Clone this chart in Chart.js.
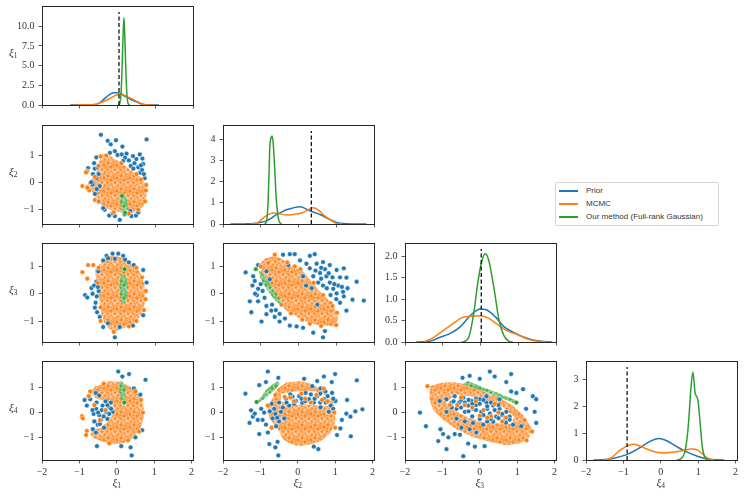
<!DOCTYPE html>
<html>
<head>
<meta charset="utf-8">
<script src="https://cdn.jsdelivr.net/npm/chart.js@4.4.0/dist/chart.umd.min.js"></script>
<style>
  body { margin: 0; background: #fff; }
  #fig { position: relative; width: 748px; height: 497px; overflow: hidden; font-family: "Liberation Serif", serif; color: #333; }
  #fig canvas { position: absolute; }
  .box { position: absolute; box-sizing: border-box; border: 1px solid #262626; pointer-events: none; }
  .lab { position: absolute; font-size: 11px; line-height: 12px; white-space: nowrap; }
  .lab i { font-style: italic; }
  .lab sub { font-size: 7.5px; vertical-align: -2px; }
  #legend { position: absolute; left: 555px; top: 182px; width: 162px; height: 42px; border: 1px solid #d6d6d6; border-radius: 2px; font-family: "Liberation Sans", sans-serif; font-size: 8px; color: #333; background: #fff; }
  #legend div { position: absolute; left: 30px; height: 10px; line-height: 10px; }
  #legend span { position: absolute; left: -27px; top: 4px; width: 19px; height: 1.6px; }
</style>
</head>
<body>
<div id="fig"></div>
<script>
// ---- data ----
const varNames = ["1", "2", "3", "4"];
const seriesNames = ["Prior", "MCMC", "Our method (Full-rank Gaussian)"];
const seriesColors = ["#1f77b4", "#ff7f0e", "#2ca02c"];
const xTicks = [-2, -1, 0, 1, 2];
const scatterYTicks = [-1, 0, 1];
const rowYMin = [0, -1.53, -1.77, -1.88];
const rowYMax = [11.8, 1.88, 1.64, 1.81];
const diagYMax = [11.8, 4.39, 2.17, 3.48];
const diagYTicks = [[0, 2.5, 5, 7.5, 10], [0, 1, 2, 3, 4], [0, 0.5, 1, 1.5, 2], [0, 1, 2, 3]];
const trueVals = [0.04, 0.34, 0.02, -0.9];

// marginal densities
const kdePrior1 = [[-1.25,0],[-0.8,0.005],[-0.6,0.05],[-0.5,0.2],[-0.4,0.55],[-0.3,1.0],[-0.2,1.35],[-0.1,1.55],[0,1.55],[0.1,1.4],[0.2,1.1],[0.3,0.85],[0.4,0.6],[0.5,0.4],[0.6,0.2],[0.7,0.07],[0.8,0.02],[1.1,0]];
const kdeMcmc1 = [[-1.15,0],[-0.8,0.02],[-0.6,0.08],[-0.5,0.2],[-0.4,0.38],[-0.3,0.6],[-0.2,0.85],[-0.1,1.1],[0,1.3],[0.1,1.38],[0.2,1.2],[0.3,0.95],[0.4,0.75],[0.5,0.5],[0.6,0.25],[0.7,0.06],[0.8,0.01],[1.0,0]];
const kdeOurs1 = [[0.02,0],[0.06,0.2],[0.09,1.2],[0.12,4.5],[0.145,8.5],[0.17,11.1],[0.195,8.5],[0.22,4.5],[0.25,1.3],[0.28,0.2],[0.32,0]];
const kdePrior2 = [[-1.8,0],[-1.4,0.005],[-1.2,0.02],[-1.03,0.07],[-0.85,0.15],[-0.7,0.3],[-0.58,0.45],[-0.45,0.56],[-0.32,0.67],[-0.15,0.76],[0.04,0.82],[0.17,0.74],[0.3,0.62],[0.45,0.53],[0.57,0.45],[0.7,0.33],[0.83,0.22],[1.01,0.07],[1.18,0.02],[1.4,0.003],[1.8,0]];
const kdeMcmc2 = [[-1.3,0],[-1.11,0.02],[-0.98,0.22],[-0.85,0.4],[-0.67,0.52],[-0.5,0.48],[-0.32,0.42],[-0.14,0.45],[0.08,0.52],[0.26,0.67],[0.39,0.77],[0.52,0.67],[0.7,0.37],[0.88,0.15],[1.01,0.03],[1.15,0]];
const kdeOurs2 = [[-0.9,0],[-0.85,0.1],[-0.81,0.9],[-0.78,2.4],[-0.76,3.6],[-0.73,4.05],[-0.7,4.15],[-0.67,3.8],[-0.63,2.6],[-0.59,1.2],[-0.54,0.35],[-0.5,0.08],[-0.45,0]];
const kdePrior3 = [[-1.7,0],[-1.51,0.005],[-1.33,0.02],[-1.07,0.11],[-0.8,0.2],[-0.53,0.36],[-0.27,0.62],[-0.1,0.74],[0,0.77],[0.18,0.74],[0.4,0.58],[0.62,0.36],[0.89,0.22],[1.16,0.11],[1.42,0.04],[1.69,0.01],[1.9,0]];
const kdeMcmc3 = [[-1.5,0],[-1.24,0.11],[-0.98,0.27],[-0.71,0.44],[-0.49,0.57],[-0.27,0.6],[0,0.61],[0.18,0.57],[0.44,0.42],[0.71,0.26],[0.98,0.17],[1.24,0.07],[1.51,0.015],[1.75,0]];
const kdeOurs3 = [[-0.5,0],[-0.44,0.01],[-0.31,0.11],[-0.18,0.66],[-0.07,1.39],[0.04,1.9],[0.13,2.06],[0.22,1.9],[0.36,1.24],[0.49,0.51],[0.62,0.15],[0.76,0.015],[0.85,0]];
const kdePrior4 = [[-1.8,0],[-1.6,0.01],[-1.28,0.06],[-0.93,0.19],[-0.57,0.45],[-0.31,0.68],[-0.05,0.8],[0.13,0.74],[0.39,0.53],[0.65,0.33],[1.0,0.13],[1.27,0.035],[1.5,0.005],[1.7,0]];
const kdeMcmc4 = [[-1.55,0],[-1.45,0.01],[-1.32,0.09],[-1.1,0.35],[-0.84,0.56],[-0.71,0.59],[-0.49,0.48],[-0.22,0.33],[0.04,0.27],[0.3,0.29],[0.57,0.35],[0.83,0.41],[1.0,0.36],[1.18,0.15],[1.31,0.035],[1.45,0]];
const kdeOurs4 = [[0.42,0],[0.48,0.01],[0.57,0.09],[0.66,0.39],[0.74,1.33],[0.81,2.74],[0.86,3.29],[0.92,2.5],[0.99,2.27],[1.05,1.45],[1.11,0.51],[1.18,0.09],[1.25,0]];

// pairwise samples: visible points, and outlines of the dense clouds
const prior21 = [[-0.44,1.74],[-0.26,1.52],[-0.04,1.54],[-0.18,1.39],[0.13,1.31],[0.77,1.57],[-0.56,0.91],[-0.84,0.38],[-0.78,0.52],[-0.6,0.5],[-0.56,0.15],[-0.66,-0.08],[-0.6,-0.43],[-0.49,-0.72],[-0.34,-1.01],[-0.22,-1.22],[-0.07,-1.24],[0.06,-1.38],[0.19,-1.18],[0.37,-1.24],[0.49,-1.22],[0.68,0.67],[0.66,0.87],[0.59,1.02],[0.41,0.96],[0.24,1.05],[0.11,1.02],[-0.07,1.14],[-0.2,1.08],[0.72,0.15],[-0.47,-0.14],[-0.38,-0.95],[-0.13,-1.13],[0.34,-1.05],[0.3,0.8],[0.45,0.7],[0.55,0.55],[0.6,0.35],[0.2,0.9],[0.5,0.85],[0.65,0.45],[-0.5,0.3],[-0.65,0.3],[-0.7,0.0],[0.0,1.0],[0.35,0.6],[0.15,0.78],[0.42,0.5],[0.62,0.62],[-0.52,0.55],[-0.62,0.7],[0.7,0.3],[-0.55,-0.25],[0.55,-1.1]];
const mcmcHull21 = [[-0.42,1.02],[-0.33,1.05],[-0.2,0.98],[0.0,0.8],[0.2,0.6],[0.4,0.4],[0.6,0.2],[0.72,-0.02],[0.77,-0.49],[0.68,-0.89],[0.41,-1.13],[0.15,-1.13],[-0.2,-1.01],[-0.42,-0.84],[-0.56,-0.55],[-0.73,-0.26],[-0.86,-0.14],[-0.69,0.09],[-0.56,0.38],[-0.49,0.73]];
const mcmcPts21 = [[-0.93,-0.14],[-0.8,0.41],[-0.83,0.36],[-0.75,-0.3],[-0.6,-0.65],[0.75,-0.3],[0.73,-0.7],[0.3,-1.15],[-0.45,0.95],[0.5,0.3],[-0.3,0.98],[0.1,0.7],[0.62,0.1],[0.76,-0.1],[0.55,-1.0],[-0.1,-1.1],[-0.5,-0.7],[-0.8,-0.2],[-0.6,0.2],[-0.5,0.6]];
const oursHull21 = [[0.07,-0.6],[0.15,-0.48],[0.24,-0.55],[0.27,-0.8],[0.26,-1.05],[0.2,-1.15],[0.12,-1.05],[0.08,-0.85]];
const oursPts21 = [[0.2,-1.12],[0.12,-0.5]];

const prior31 = [[-0.13,1.47],[0.02,1.47],[0.15,1.39],[-0.29,1.39],[-0.07,1.28],[0.43,1.05],[0.68,0.87],[0.77,0.41],[0.68,-0.79],[0.41,-1.17],[0.06,-1.22],[-0.07,-1.6],[-0.38,-1.22],[-0.25,-1.08],[-0.86,-0.05],[-0.8,-0.14],[-0.69,0.21],[-0.56,0.44],[-0.58,-0.33],[-0.54,-0.68],[-0.6,-0.51],[-0.47,-0.85],[-0.51,0.82],[-0.38,1.22],[-0.62,0.3],[-0.5,0.1],[0.2,1.25],[-0.55,-0.1],[-0.66,0.0],[-0.52,0.25],[0.3,1.15],[-0.25,1.3]];
const mcmcHull31 = [[-0.47,1.1],[-0.2,1.39],[0.06,1.36],[0.37,1.1],[0.59,0.82],[0.72,0.3],[0.72,-0.39],[0.59,-0.85],[0.41,-1.14],[0.19,-1.25],[-0.03,-1.37],[-0.2,-1.31],[-0.34,-1.08],[-0.42,-0.79],[-0.47,-0.39],[-0.51,0.07],[-0.56,0.53],[-0.6,0.87]];
const mcmcPts31 = [[-0.93,0.79],[-0.8,0.55],[-0.78,1.05],[-0.64,1.05],[0.75,0.1],[0.74,-0.2],[0.7,-0.6],[0.5,-1.0],[-0.45,-1.0],[-0.5,0.95],[0.5,0.95],[0.65,0.6],[0.3,-1.2],[-0.1,-1.4],[-0.45,-0.5],[-0.52,0.4]];
const oursHull31 = [[0.08,0.6],[0.15,0.8],[0.22,0.65],[0.27,0.3],[0.26,-0.1],[0.2,-0.35],[0.1,-0.38],[0.07,0.0],[0.06,0.3]];
const oursPts31 = [[0.19,0.9]];

const prior41 = [[0.04,1.63],[0.15,1.43],[0.33,1.53],[0.77,1.3],[0.46,0.96],[0.63,0.71],[-0.86,0.5],[-0.71,0.53],[-0.8,0.28],[-0.56,0.78],[-0.47,0.68],[-0.54,0.4],[-0.38,0.28],[-0.2,0.21],[-0.29,0.03],[-0.47,-0.1],[-0.6,-0.35],[-0.51,-0.48],[-0.42,-0.29],[-0.64,-0.66],[-0.56,-0.79],[-0.16,0.4],[-0.11,0.03],[-0.34,-0.6],[-0.53,-1.33],[0.12,-1.33],[0.37,-1.38],[0.4,-1.7],[0.68,-0.7],[0.5,-0.98],[-0.25,0.3],[-0.4,0.1],[-0.55,0.15],[-0.35,-0.15],[-0.2,-0.05],[-0.45,-0.45],[-0.62,-0.05],[-0.3,0.45],[-0.15,0.15],[-0.25,-0.25],[-0.5,0.0],[-0.65,0.1]];
const mcmcHull41 = [[-0.69,0.78],[-0.6,1.03],[-0.47,1.09],[-0.2,1.25],[0.11,1.21],[0.37,1.03],[0.59,0.71],[0.72,0.28],[0.72,-0.23],[0.63,-0.66],[0.41,-1.04],[0.15,-1.23],[-0.11,-1.26],[-0.38,-1.16],[-0.6,-1.02],[-0.72,-0.85],[-0.62,-0.68],[-0.45,-0.62],[-0.28,-0.4],[-0.12,-0.12],[-0.1,0.25],[-0.28,0.46],[-0.55,0.55]];
const mcmcPts41 = [[-0.93,-0.14],[-0.91,-0.23],[-0.8,-0.73],[-0.82,-0.89],[-0.71,0.84],[-0.75,0.65],[-0.6,0.3],[-0.45,-0.3],[-0.3,0.1],[0.7,0.0],[0.65,0.5],[0.5,0.85],[-0.35,1.15],[0.3,-1.1],[-0.2,-1.22],[0.6,-0.75]];
const oursHull41 = [[0.06,1.21],[0.12,1.25],[0.2,1.15],[0.25,0.9],[0.22,0.5],[0.18,0.42],[0.1,0.6],[0.05,0.85]];
const oursPts41 = [[0.2,0.4]];

const prior32 = [[-1.4,0.78],[-1.2,0.64],[-1.16,0.47],[-1.22,0.3],[-1.07,0.18],[-1.29,-0.28],[-1.25,-0.68],[-1.07,-0.28],[-0.98,-1.02],[-0.85,-0.45],[-0.72,-0.62],[-0.63,-0.85],[-0.5,-1.02],[-0.23,-1.17],[-0.05,-1.2],[0.12,-1.25],[0.39,-1.43],[0.65,-1.6],[0.7,-1.37],[-0.41,1.43],[-0.23,1.45],[-0.1,1.45],[0.3,1.39],[0.43,1.45],[0.04,1.22],[0.21,1.1],[0.48,1.1],[0.65,1.16],[0.83,1.05],[1.01,0.87],[1.2,0.93],[1.27,0.59],[1.54,0.44],[1.43,-0.22],[1.73,-0.25],[1.27,-0.62],[1.1,-0.33],[0.92,0.18],[0.74,0.64],[0.57,0.76],[0.39,0.64],[0.52,0.41],[0.83,0.41],[1.01,0.01],[1.18,0.07],[0.65,0.3],[0.3,0.93],[0.12,0.64],[-1.07,1.05],[-0.85,0.82],[-0.76,0.53],[-0.27,1.05],[-0.5,-0.74],[-0.36,-0.91],[0.9,0.6],[1.05,0.3],[0.7,0.9],[-0.95,0.1],[-1.1,-0.05],[0.2,0.3],[0.5,-0.4],[0.6,0.95],[0.8,0.75],[1.1,0.6],[0.75,0.2],[0.95,0.35],[1.15,0.25],[0.85,-0.05],[0.45,0.85],[0.6,0.55],[1.0,-0.2],[1.3,0.2],[-1.0,0.35],[-0.9,-0.15],[-1.15,0.0],[-0.7,-0.4],[-0.6,-0.6],[-0.85,-0.75],[1.2,-0.1],[0.35,0.2]];
const mcmcHull32 = [[-1.03,1.1],[-0.89,1.28],[-0.63,1.39],[-0.45,1.28],[-0.14,0.99],[0.12,0.82],[0.3,0.53],[0.57,0.07],[0.79,-0.22],[0.96,-0.56],[1.05,-0.91],[0.96,-1.2],[0.74,-1.17],[0.48,-1.14],[0.21,-1.02],[-0.05,-0.85],[-0.32,-0.62],[-0.5,-0.33],[-0.67,0.07],[-0.85,0.41],[-0.98,0.76]];
const mcmcPts32 = [[-0.63,1.43],[-0.8,1.13],[1.0,-1.15],[1.02,-0.7],[0.85,-0.35],[-0.1,1.0],[0.3,-1.1],[-0.3,1.15],[0.05,0.9],[0.4,0.4],[0.65,-0.05],[0.9,-0.45],[0.6,-1.18],[0.1,-0.95],[-0.2,-0.72],[-0.45,-0.4],[-1.0,1.0]];
const oursHull32 = [[-1.05,0.85],[-0.98,0.8],[-0.8,0.45],[-0.6,0.05],[-0.45,-0.35],[-0.5,-0.4],[-0.68,-0.15],[-0.88,0.25],[-1.02,0.6]];
const oursPts32 = [[-1.13,0.9]];

const prior42 = [[-1.4,0.75],[-1.03,1.09],[-0.8,1.63],[-0.52,1.38],[-0.85,1.21],[-1.25,0.09],[-1.2,-0.16],[-1.29,-0.41],[-1.15,-0.04],[-1.07,-0.29],[-1.03,-0.85],[-0.98,0.15],[-0.8,-0.79],[-0.76,-1.25],[-0.6,-1.38],[-0.54,-1.16],[-0.52,-1.7],[0.17,1.34],[0.52,1.25],[0.7,1.43],[1.0,1.53],[0.91,1.21],[0.39,1.05],[0.61,0.96],[0.74,0.84],[0.92,0.78],[1.01,0.46],[1.32,0.5],[1.58,1.28],[1.54,0.05],[1.73,0.13],[1.41,-0.16],[1.3,-0.04],[1.18,-0.29],[1.14,-0.63],[1.05,-0.89],[1.42,-0.94],[0.43,-1.35],[0.55,-1.45],[0.21,0.78],[0.04,0.65],[-0.14,0.63],[-0.32,0.55],[0.3,0.53],[0.52,0.65],[0.43,0.4],[0.7,0.53],[0.88,0.28],[0.83,0.03],[-0.5,0.4],[-0.63,0.15],[-0.45,0.03],[-0.67,-0.23],[-0.5,-0.35],[-0.58,-0.54],[-0.85,-0.48],[-0.94,-0.29],[-0.23,0.28],[0.12,0.39],[0.61,0.21],[-0.05,0.46],[-0.36,-0.23],[0.95,0.55],[0.6,0.75],[0.1,0.55],[-0.3,0.4],[-0.9,0.0],[-0.7,0.35],[-0.2,0.72],[0.35,0.72],[0.8,0.65],[0.6,0.4],[0.2,0.45],[-0.1,0.35],[0.45,0.55],[0.75,0.4],[-0.4,0.2],[-0.6,-0.05],[-0.75,0.05],[-0.55,-0.2],[0.95,0.15]];
const mcmcHull42 = [[-0.55,0.95],[-0.3,1.2],[0.05,1.25],[0.3,1.18],[0.55,1.0],[0.8,0.75],[0.96,0.4],[1.01,-0.35],[0.88,-0.79],[0.65,-1.1],[0.39,-1.25],[0.04,-1.33],[-0.23,-1.23],[-0.41,-1.04],[-0.5,-0.73],[-0.63,-0.48],[-0.76,-0.23],[-0.8,0.15],[-0.7,0.5],[null,null],[-0.45,0.75],[0.0,0.85],[0.45,0.85],[0.85,0.62],[0.9,0.25],[0.55,0.28],[0.2,0.32],[-0.2,0.3],[-0.45,0.45]];
const mcmcPts42 = [[-0.8,0.28],[-0.2,0.6],[0.2,0.55],[0.5,0.7],[0.65,0.5],[-0.1,0.45],[0.8,0.45],[0.7,0.95],[-0.7,-0.6],[1.0,-0.6],[0.35,0.4],[-0.35,0.62],[0.1,0.75],[-0.6,0.7],[0.98,0.0]];
const oursHull42 = [[-1.1,0.4],[-1.0,0.6],[-0.85,0.9],[-0.7,1.1],[-0.55,1.25],[-0.48,1.15],[-0.55,1.0],[-0.7,0.8],[-0.85,0.6],[-1.0,0.42]];
const oursPts42 = [[-1.1,0.42]];

const prior43 = [[-1.6,0.0],[-1.44,-0.54],[-1.11,-1.13],[-0.89,-1.45],[-0.44,-1.73],[-1.05,-0.66],[-0.98,-0.85],[-0.84,-0.98],[-0.67,-0.85],[-0.53,-0.88],[-0.31,-1.23],[-0.13,-1.35],[0.13,-1.33],[-0.46,1.38],[-0.27,1.46],[0.0,1.34],[0.27,1.63],[0.4,1.43],[0.84,1.53],[0.71,1.21],[0.84,0.84],[0.98,0.78],[1.16,0.93],[1.42,0.65],[1.51,0.53],[1.47,0.03],[1.51,-0.41],[1.24,0.15],[1.11,-0.54],[-0.89,0.53],[-0.67,0.65],[-0.44,0.59],[-0.22,0.46],[0.0,0.53],[0.18,0.4],[0.36,0.28],[0.53,0.15],[0.71,0.03],[-0.62,0.15],[-0.4,0.03],[-0.18,0.15],[0.04,0.03],[0.27,-0.04],[0.44,-0.16],[0.67,-0.29],[0.8,-0.16],[0.89,-0.48],[-0.4,-0.35],[-0.18,-0.41],[0.09,-0.48],[-0.62,-0.24],[-0.89,0.03],[-0.31,0.28],[0.36,-0.36],[0.18,0.65],[-1.07,0.46],[-0.76,0.39],[0.53,0.53],[-0.49,-0.6],[-0.09,-0.79],[-0.27,-0.66],[-0.1,0.3],[0.6,-0.1],[0.2,0.15],[-0.55,0.4],[-0.7,0.45],[-0.5,0.5],[-0.3,0.5],[-0.1,0.55],[0.1,0.5],[0.3,0.4],[0.5,0.3],[-0.4,0.4],[-0.2,0.35],[0.0,0.35],[0.2,0.25],[0.4,0.1],[0.6,-0.05],[0.8,-0.28],[-0.5,0.2],[-0.3,0.05],[-0.1,0.1],[0.1,-0.1],[0.3,-0.25],[0.5,-0.22],[0.7,-0.4],[0.0,-0.25],[-0.2,-0.15],[0.2,-0.35],[-0.75,0.2]];
const mcmcHull43 = [[-1.33,1.05],[-1.07,1.18],[-0.76,1.21],[-0.4,1.15],[0.0,0.9],[0.44,0.65],[0.89,0.28],[1.16,-0.1],[1.38,-0.6],[1.33,-0.98],[1.07,-1.23],[0.71,-1.29],[0.27,-1.16],[-0.18,-0.98],[-0.62,-0.66],[-0.98,-0.29],[-1.24,0.09],[-1.35,0.53],[null,null],[-0.9,0.4],[-0.65,0.72],[-0.25,0.65],[0.2,0.48],[0.6,0.22],[0.92,-0.15],[0.85,-0.45],[0.5,-0.42],[0.1,-0.38],[-0.3,-0.2],[-0.7,0.1]];
const mcmcPts43 = [[-0.4,0.3],[0.1,0.1],[0.5,0.0],[-0.1,0.45],[0.3,-0.15],[-0.6,0.3],[0.7,-0.2],[0.0,-0.12],[-1.4,1.05],[1.4,-0.75],[-0.2,0.2],[0.4,0.35],[-0.5,0.6],[0.2,-0.2],[0.6,-0.35],[-0.8,0.3],[1.25,-1.1],[1.2,-0.3]];
const oursHull43 = [[-0.4,1.22],[-0.3,1.25],[0.1,1.0],[0.5,0.78],[0.95,0.5],[1.0,0.4],[0.9,0.38],[0.5,0.62],[0.1,0.85],[-0.3,1.05],[-0.42,1.12]];
const oursPts43 = [[0.98,0.4]];

// ---- layout ----
const colLeft = [42, 223, 405, 586];
const rowTop = [6, 125, 243, 361];
const PW = 151, PH = 99;
const PADL = 40, PADR = 4, PADT = 4, PADB = 22;
const fig = document.getElementById("fig");

const pts = arr => arr.map(p => ({ x: p[0], y: p[1] }));
const minus = v => (v < 0 ? "\u2212" + Math.abs(v) : String(v));
const fixed1 = v => v.toFixed(1);

// speckled fill so dense clouds read like packed white-edged dots
function speckle(ctx, color) {
  const t = document.createElement("canvas");
  t.width = 13; t.height = 13;
  const g = t.getContext("2d");
  g.fillStyle = color;
  g.fillRect(0, 0, 13, 13);
  g.strokeStyle = "rgba(255,255,255,0.8)";
  g.lineWidth = 0.6;
  const spots = [[2, 3], [7, 1], [11, 5], [5, 7], [9, 10], [1, 10], [12, 12], [6, 12]];
  spots.forEach(s => {
    [-13, 0, 13].forEach(dx => [-13, 0, 13].forEach(dy => {
      g.beginPath();
      g.arc(s[0] + dx, s[1] + dy, 2.3, 0, Math.PI * 2);
      g.stroke();
    }));
  });
  return ctx.createPattern(t, "repeat");
}

// fills a dataset as a closed outline ({x:null} splits rings, even-odd gives holes)
const outlineFill = {
  id: "outlineFill",
  beforeDatasetDraw(chart, args) {
    const ds = chart.data.datasets[args.index];
    if (!ds.outline) return;
    const ctx = chart.ctx, a = chart.chartArea;
    ctx.save();
    ctx.beginPath();
    ctx.rect(a.left, a.top, a.right - a.left, a.bottom - a.top);
    ctx.clip();
    ctx.beginPath();
    let start = true;
    args.meta.data.forEach(el => {
      if (isNaN(el.x) || isNaN(el.y)) { ctx.closePath(); start = true; return; }
      if (start) { ctx.moveTo(el.x, el.y); start = false; } else ctx.lineTo(el.x, el.y);
    });
    ctx.closePath();
    ctx.fillStyle = speckle(ctx, ds.backgroundColor);
    ctx.fill("evenodd");
    ctx.restore();
    return false;
  }
};

function axis(isX, min, max, ticks, fmt, showLabels) {
  return {
    type: "linear",
    position: isX ? "bottom" : "left",
    min: min,
    max: max,
    afterBuildTicks: s => { s.ticks = ticks.map(v => ({ value: v })); },
    afterFit: s => { if (isX) s.height = PADB; else s.width = PADL; },
    grid: { display: true, drawOnChartArea: false, drawTicks: true, tickLength: 3.5, color: "#333", lineWidth: 0.8 },
    border: { display: false },
    ticks: {
      display: showLabels, padding: isX ? 3 : 4, color: "#333", autoSkip: false, maxRotation: 0,
      font: { family: "Liberation Serif", size: 10 },
      callback: fmt
    }
  };
}

function kdeSet(data, color, order) {
  return { data: pts(data), showLine: true, borderColor: color, borderWidth: 1.5, pointRadius: 0,
    cubicInterpolationMode: "monotone", tension: 0.4, order: order };
}

function dotSet(data, color, order) {
  return { data: pts(data), backgroundColor: color, borderColor: "#fff", borderWidth: 0.5,
    pointRadius: 2.4, pointHoverRadius: 2.4, order: order };
}

function outlineSet(data, color, order) {
  return { data: pts(data), outline: true, backgroundColor: color, pointRadius: 0, order: order };
}

function makeChart(r, c, datasets, yMin, yMax, yTicks, yFmt) {
  const canvas = document.createElement("canvas");
  const w = PW + PADL + PADR, h = PH + PADT + PADB;
  canvas.width = w; canvas.height = h;
  canvas.style.left = (colLeft[c] - PADL) + "px";
  canvas.style.top = (rowTop[r] - PADT) + "px";
  canvas.style.width = w + "px"; canvas.style.height = h + "px";
  fig.appendChild(canvas);
  new Chart(canvas, {
    type: "scatter",
    data: { datasets: datasets },
    options: {
      responsive: false,
      animation: false,
      events: [],
      layout: { padding: { left: 0, right: PADR, top: PADT, bottom: 0 } },
      plugins: { legend: { display: false }, tooltip: { enabled: false } },
      scales: {
        x: axis(true, -2, 2, xTicks, minus, r === 3),
        y: axis(false, yMin, yMax, yTicks, yFmt)
      }
    },
    plugins: [outlineFill]
  });
  // panel box (spines)
  const box = document.createElement("div");
  box.className = "box";
  box.style.left = colLeft[c] + "px";
  box.style.top = rowTop[r] + "px";
  box.style.width = (PW + 1) + "px";
  box.style.height = (PH + 1) + "px";
  fig.appendChild(box);
}

const kdes = [
  [kdePrior1, kdeMcmc1, kdeOurs1],
  [kdePrior2, kdeMcmc2, kdeOurs2],
  [kdePrior3, kdeMcmc3, kdeOurs3],
  [kdePrior4, kdeMcmc4, kdeOurs4]
];
const diagFmt = [fixed1, minus, fixed1, minus];

const pairs = {
  "1-0": [prior21, mcmcHull21, mcmcPts21, oursHull21, oursPts21],
  "2-0": [prior31, mcmcHull31, mcmcPts31, oursHull31, oursPts31],
  "3-0": [prior41, mcmcHull41, mcmcPts41, oursHull41, oursPts41],
  "2-1": [prior32, mcmcHull32, mcmcPts32, oursHull32, oursPts32],
  "3-1": [prior42, mcmcHull42, mcmcPts42, oursHull42, oursPts42],
  "3-2": [prior43, mcmcHull43, mcmcPts43, oursHull43, oursPts43]
};

for (let r = 0; r < 4; r++) {
  for (let c = 0; c <= r; c++) {
    if (r === c) {
      const k = kdes[r];
      const ds = [
        kdeSet(k[0], seriesColors[0], 4),
        kdeSet(k[1], seriesColors[1], 3),
        kdeSet(k[2], seriesColors[2], 2),
        { data: pts([[trueVals[r], 0], [trueVals[r], diagYMax[r]]]), showLine: true, borderColor: "#111",
          borderWidth: 1.3, borderDash: [4, 2.5], pointRadius: 0, order: 1 }
      ];
      makeChart(r, c, ds, 0, diagYMax[r], diagYTicks[r], diagFmt[r]);
    } else {
      const p = pairs[r + "-" + c];
      const ds = [
        outlineSet(p[1], "#fd8a26", 6),
        dotSet(p[0], seriesColors[0], 5),
        dotSet(p[2], seriesColors[1], 4),
        outlineSet(p[3], "#4aae4a", 3),
        dotSet(p[4], seriesColors[2], 2)
      ];
      makeChart(r, c, ds, rowYMin[r], rowYMax[r], scatterYTicks, minus);
    }
  }
}

// axis labels (plain text)
function label(html, left, top) {
  const d = document.createElement("div");
  d.className = "lab";
  d.innerHTML = html;
  d.style.left = left + "px";
  d.style.top = top + "px";
  fig.appendChild(d);
}
varNames.forEach((n, i) => {
  label("<i>\u03be</i><sub>" + n + "</sub>", 9, rowTop[i] + PH / 2 - 10);
  label("<i>\u03be</i><sub>" + n + "</sub>", colLeft[i] + PW / 2 - 5, 476);
});

// legend
const legend = document.createElement("div");
legend.id = "legend";
seriesNames.forEach((n, i) => {
  const row = document.createElement("div");
  row.style.top = (3 + i * 13) + "px";
  row.innerHTML = '<span style="background:' + seriesColors[i] + '"></span>' + n;
  legend.appendChild(row);
});
fig.appendChild(legend);
</script>
</body>
</html>
